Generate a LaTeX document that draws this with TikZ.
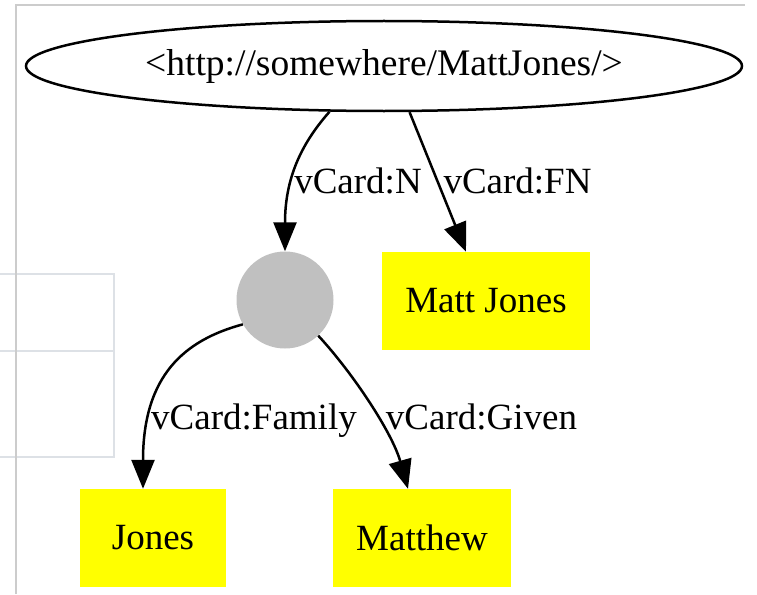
\documentclass[tikz,border=0pt]{standalone}
\usepackage{fontspec}
\setmainfont{Liberation Serif}
\usetikzlibrary{arrows.meta,shapes.geometric}
\definecolor{framegray}{HTML}{CCCCCC}
\definecolor{panelgray}{HTML}{DDE1E6}
\definecolor{blankgray}{HTML}{C0C0C0}
\definecolor{literalyellow}{HTML}{FFFF00}
\tikzset{
  every node/.style={font=\fontsize{37}{44}\selectfont, inner sep=0pt},
  resource/.style={ellipse, draw, line width=2.5pt, minimum width=716pt, minimum height=90pt,
    font=\fontsize{37.5}{44}\selectfont},
  blank/.style={circle, fill=blankgray, minimum size=97pt},
  literal/.style={rectangle, fill=literalyellow, minimum height=98pt},
  edge/.style={line width=2.5pt, -{Triangle[length=29pt,width=23pt]}},
  elabel/.style={anchor=base}
}
\begin{document}
\begin{tikzpicture}[x=1pt,y=-1pt]
  \useasboundingbox (0,0) rectangle (757,594);
  % browser chrome behind the graph
  \draw[panelgray, line width=1.5pt] (-2,274) rectangle (114,457);
  \draw[panelgray, line width=1.5pt] (-2,351) -- (114,351);
  \draw[framegray, line width=1.2pt] (16,594) -- (16,5) -- (745,5);

  % nodes
  \node[resource] (person) at (384,66) {<http://somewhere/MattJones/>};
  \node[blank] (name) at (285,300) {};
  \node[literal, minimum width=208pt] (fn) at (486,301) {Matt Jones};
  \node[literal, minimum width=146pt] (family) at (153,538) {Jones};
  \node[literal, minimum width=178pt] (given) at (422,538) {Matthew};

  % edges
  \draw[edge] (person.220.6) .. controls (300,145) and (285,180) .. (name.north);
  \draw[edge] (person.299.1) -- ([xshift=-20pt]fn.north);
  \draw[edge] (name.210) .. controls (185,340) and (143,375) .. ([xshift=-10pt]family.north);
  \draw[edge] (name.313.4) .. controls (352,372) and (392,432) .. ([xshift=-14pt]given.north);

  % edge labels
  \node[elabel] (lN) at (358,193) {vCard:N};
  \node[elabel] (lFN) at (517.5,193) {vCard:FN};
  \node[elabel] (lFamily) at (254,429) {vCard:Family};
  \node[elabel] (lGiven) at (481.5,429) {vCard:Given};
\end{tikzpicture}
\end{document}
